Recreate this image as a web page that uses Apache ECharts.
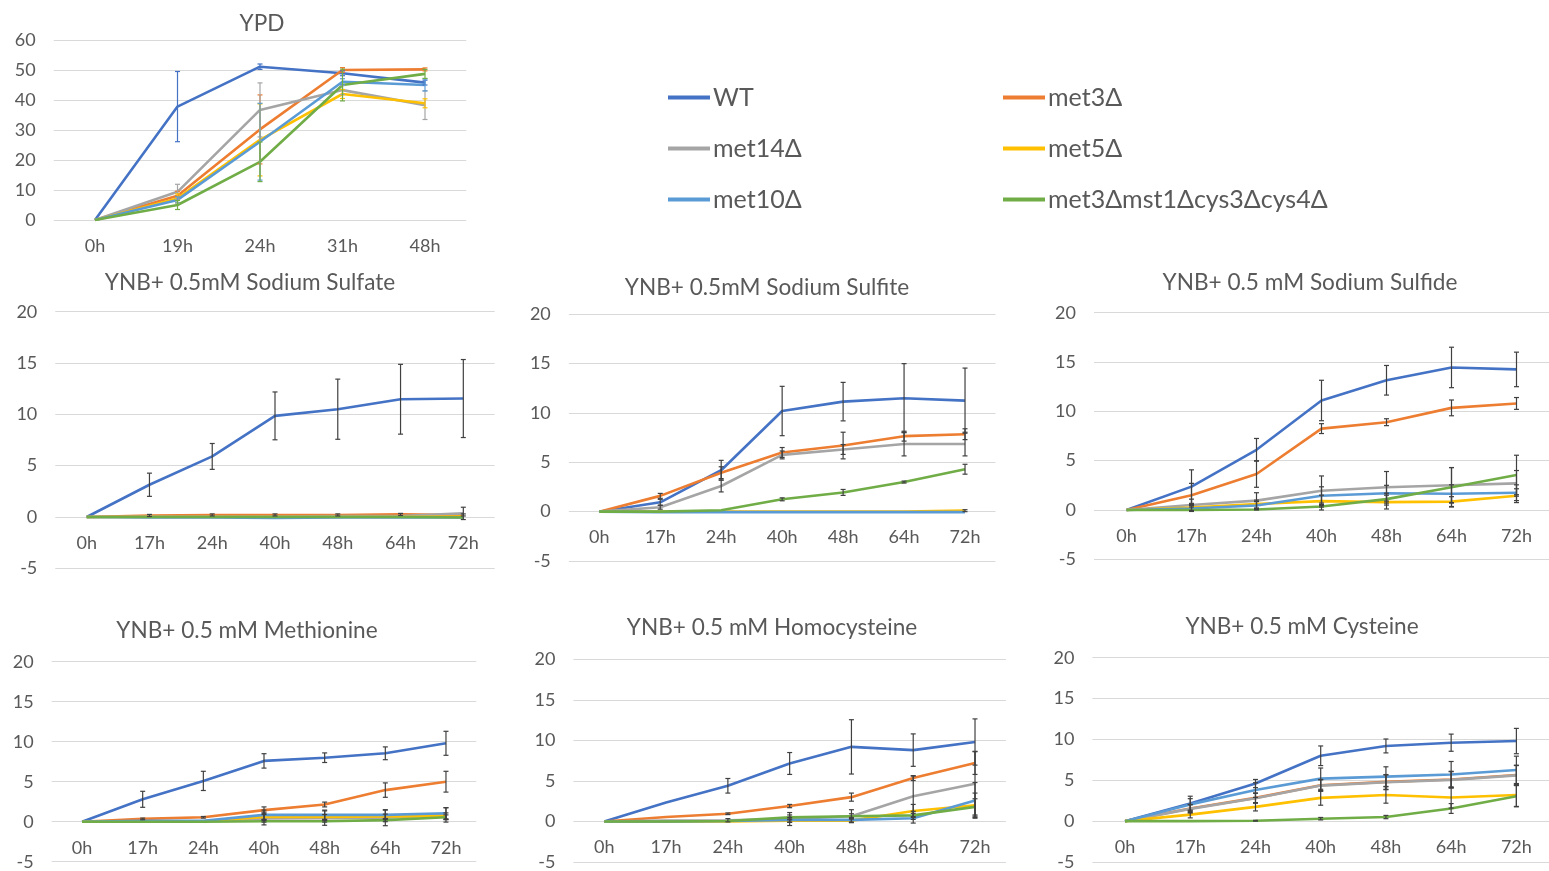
<!DOCTYPE html>
<html><head><meta charset="utf-8">
<script src="https://cdn.jsdelivr.net/npm/echarts@6/dist/echarts.min.js"></script>
<style>html,body{margin:0;padding:0;background:#fff}#c{width:1549px;height:871px}</style>
</head><body><div id="c"></div>
<script>
const strains = ['WT','met3Δ','met14Δ','met5Δ','met10Δ','met3Δmst1Δcys3Δcys4Δ'];
const colors = ['#4472C4','#ED7D31','#A5A5A5','#FFC000','#5B9BD5','#70AD47'];
const ypdTimes = ['0h','19h','24h','31h','48h'];
const ynbTimes = ['0h','17h','24h','40h','48h','64h','72h'];

// rows follow strain order
const ypdMean = [
  [0, 37.8, 51.1, 48.9, 45.8],
  [0, 8.1, 30.2, 50.0, 50.2],
  [0, 9.4, 36.7, 43.3, 38.3],
  [0, 7.2, 26.7, 42.0, 38.9],
  [0, 6.7, 26.1, 46.1, 45.0],
  [0, 5.0, 19.4, 45.0, 48.7]
];
const ypdErr = [
  [0, 11.7, 0.9, 0.8, 0.8],
  [0, 1.5, 11.5, 0.8, 0.5],
  [0, 2.5, 9.0, 1.5, 4.8],
  [0, 1.5, 12.0, 1.5, 1.5],
  [0, 1.0, 12.8, 1.0, 2.0],
  [0, 1.5, 6.6, 5.3, 1.5]
];
const sulfateMean = [
  [0, 3.14, 5.9, 9.85, 10.5, 11.47, 11.54],
  [0, 0.15, 0.2, 0.2, 0.2, 0.25, 0.2],
  [0, 0.05, 0.05, 0.05, 0.1, 0.1, 0.35],
  [0, 0, 0, 0, 0, 0, 0.05],
  [0, -0.05, -0.05, -0.1, -0.05, -0.05, -0.05],
  [0, 0, 0, 0, 0, 0, -0.05]
];
const sulfateErr = [
  [0, 1.13, 1.26, 2.33, 2.93, 3.4, 3.8],
  [0, 0.1, 0.1, 0.1, 0.1, 0.1, 0.1],
  [0, 0, 0, 0, 0, 0, 0.6],
  [0, 0, 0, 0, 0, 0, 0],
  [0, 0, 0, 0, 0, 0, 0],
  [0, 0, 0, 0, 0, 0, 0]
];
const sulfiteMean = [
  [0, 0.95, 4.2, 10.2, 11.15, 11.5, 11.25],
  [0, 1.6, 3.95, 6.0, 6.7, 7.65, 7.85],
  [0, 0.45, 2.6, 5.75, 6.3, 6.85, 6.85],
  [0, 0, 0, 0, 0, 0, 0.1],
  [0, -0.05, -0.05, -0.05, -0.05, -0.05, -0.05],
  [0, 0, 0.15, 1.25, 1.95, 3.0, 4.3]
];
const sulfiteErr = [
  [0, 0.3, 1.0, 2.5, 1.95, 3.5, 3.3],
  [0, 0.25, 0.6, 0.5, 1.35, 0.5, 0.55],
  [0, 0.2, 0.6, 0.4, 0.5, 1.2, 1.2],
  [0, 0, 0, 0, 0, 0, 0.1],
  [0, 0, 0, 0, 0, 0, 0],
  [0, 0, 0, 0.15, 0.3, 0.1, 0.5]
];
const sulfideMean = [
  [0, 2.37, 6.1, 11.1, 13.15, 14.45, 14.25],
  [0, 1.5, 3.65, 8.25, 8.9, 10.35, 10.8],
  [0, 0.5, 0.95, 1.95, 2.3, 2.5, 2.7],
  [0, 0.25, 0.6, 0.9, 0.8, 0.85, 1.45],
  [0, 0.15, 0.45, 1.45, 1.7, 1.65, 1.75],
  [0, 0, 0.05, 0.35, 1.1, 2.3, 3.55]
];
const sulfideErr = [
  [0, 1.7, 1.15, 2.05, 1.5, 2.05, 1.75],
  [0, 1.2, 1.35, 0.5, 0.35, 0.8, 0.6],
  [0, 0.6, 0.8, 1.5, 1.6, 1.8, 1.3],
  [0, 0.3, 0.4, 0.6, 0.7, 0.5, 0.7],
  [0, 0.3, 0.4, 0.9, 0.8, 0.9, 0.8],
  [0, 0, 0.05, 0.35, 0.6, 2.0, 2.0]
];
const methionineMean = [
  [0, 2.8, 5.1, 7.6, 8.0, 8.55, 9.8],
  [0, 0.35, 0.55, 1.45, 2.15, 3.95, 5.0],
  [0, 0.05, 0.05, 0.4, 0.45, 0.5, 0.85],
  [0, 0.05, 0.05, 0.6, 0.6, 0.65, 0.7],
  [0, 0.1, 0.1, 0.85, 0.85, 0.85, 1.05],
  [0, 0, 0, 0.05, 0.05, 0.2, 0.55]
];
const methionineErr = [
  [0, 1.0, 1.2, 0.9, 0.6, 0.8, 1.5],
  [0, 0.1, 0.1, 0.4, 0.3, 0.9, 1.3],
  [0, 0, 0, 0.8, 0.9, 1.0, 0.9],
  [0, 0, 0, 0.3, 0.3, 0.3, 0.4],
  [0, 0, 0, 0.6, 0.6, 0.6, 0.7],
  [0, 0, 0, 0.1, 0.1, 0.2, 0.3]
];
const homocysteineMean = [
  [0, 2.35, 4.4, 7.15, 9.2, 8.8, 9.8],
  [0, 0.55, 0.95, 1.9, 3.0, 5.35, 7.2],
  [0, 0.1, 0.15, 0.3, 0.65, 3.1, 4.65],
  [0, 0, 0, 0.1, 0.1, 1.3, 2.0],
  [0, 0, 0.05, 0.2, 0.2, 0.4, 2.6],
  [0, 0, 0.05, 0.5, 0.65, 0.75, 1.8]
];
const homocysteineErr = [
  [0, 0, 0.9, 1.35, 3.35, 2.0, 2.85],
  [0, 0, 0.1, 0.2, 0.5, 0.3, 1.4],
  [0, 0, 0.2, 0.8, 0.8, 2.5, 4.0],
  [0, 0, 0, 0.2, 0.2, 0.8, 1.5],
  [0, 0, 0, 0.3, 0.3, 0.6, 2.2],
  [0, 0, 0, 0.3, 0.3, 0.5, 1.0]
];
const cysteineMean = [
  [0, 2.15, 4.6, 8.0, 9.2, 9.6, 9.8],
  [0, 1.55, 2.85, 4.4, 4.8, 5.1, 5.65],
  [0, 1.5, 2.8, 4.35, 4.75, 5.05, 5.6],
  [0, 0.8, 1.75, 2.85, 3.2, 2.9, 3.2],
  [0, 2.05, 3.8, 5.2, 5.45, 5.7, 6.25],
  [0, 0, 0.05, 0.3, 0.5, 1.55, 3.05]
];
const cysteineErr = [
  [0, 0.9, 0.5, 1.2, 0.85, 1.05, 1.55],
  [0, 0.5, 0.6, 0.7, 0.9, 1.0, 1.2],
  [0, 0.5, 0.6, 0.7, 0.9, 1.0, 1.2],
  [0, 0.4, 0.5, 0.9, 1.0, 1.3, 1.4],
  [0, 0.7, 0.9, 1.3, 1.2, 1.6, 1.7],
  [0, 0, 0.05, 0.15, 0.2, 0.6, 1.3]
];

const FONT = 'Lato';
const TXT = '#595959';

const panels = [
  {title:'YPD', cats:ypdTimes, mean:ypdMean, err:ypdErr, min:0, max:60, step:10,
   box:{left:53.75, width:412.5, top:40, height:180}, tx:262, ty:24, errColor:null},
  {title:'YNB+ 0.5mM Sodium Sulfate', cats:ynbTimes, mean:sulfateMean, err:sulfateErr, min:-5, max:20, step:5,
   box:{left:55.3, width:439.4, top:311.7, height:256.6}, tx:250, ty:283, errColor:'#404040'},
  {title:'YNB+ 0.5mM Sodium Sulfite', cats:ynbTimes, mean:sulfiteMean, err:sulfiteErr, min:-5, max:20, step:5,
   box:{left:568.8, width:426.7, top:314.3, height:246.7}, tx:767, ty:288, errColor:'#404040'},
  {title:'YNB+ 0.5 mM Sodium Sulfide', cats:ynbTimes, mean:sulfideMean, err:sulfideErr, min:-5, max:20, step:5,
   box:{left:1094, width:467.7, top:312.7, height:246.6}, tx:1310, ty:283, errColor:'#404040'},
  {title:'YNB+ 0.5 mM Methionine', cats:ynbTimes, mean:methionineMean, err:methionineErr, min:-5, max:20, step:5,
   box:{left:51.7, width:424.6, top:661.7, height:200}, tx:247, ty:631, errColor:'#404040'},
  {title:'YNB+ 0.5 mM Homocysteine', cats:ynbTimes, mean:homocysteineMean, err:homocysteineErr, min:-5, max:20, step:5,
   box:{left:573.4, width:432.5, top:659.3, height:205.7}, tx:772, ty:628, errColor:'#404040'},
  {title:'YNB+ 0.5 mM Cysteine', cats:ynbTimes, mean:cysteineMean, err:cysteineErr, min:-5, max:20, step:5,
   box:{left:1092.4, width:457, top:657.7, height:205}, tx:1302, ty:627, errColor:'#404040'}
];

const grid = [], xAxis = [], yAxis = [], title = [], series = [];
panels.forEach((p, gi) => {
  grid.push(Object.assign({containLabel:false}, p.box));
  title.push({text:p.title, left:p.tx, top:p.ty, textAlign:'center', textVerticalAlign:'middle', padding:0,
    textStyle:{fontFamily:FONT, fontSize:22.6, fontWeight:'normal', color:TXT}});
  // category labels sit next to the zero line, as in the source
  const zeroOffset = -p.box.height * (0 - p.min) / (p.max - p.min);
  xAxis.push({type:'category', gridIndex:gi, data:p.cats, boundaryGap:true, position:'bottom', offset:zeroOffset,
    axisLine:{show:false, onZero:false}, axisTick:{show:false}, splitLine:{show:false},
    axisLabel:{color:TXT, fontSize:18, fontFamily:FONT, margin:17}});
  yAxis.push({type:'value', gridIndex:gi, min:p.min, max:p.max, interval:p.step,
    axisLine:{show:false}, axisTick:{show:false},
    splitLine:{lineStyle:{color:'#D9D9D9', width:1}},
    axisLabel:{color:TXT, fontSize:18, fontFamily:FONT, margin:18}});
  strains.forEach((s, si) => {
    series.push({type:'line', name:s, xAxisIndex:gi, yAxisIndex:gi, data:p.mean[si],
      symbol:'none', color:colors[si], lineStyle:{width:2.6, color:colors[si]}, z:2});
  });
  strains.forEach((s, si) => {
    const ec = p.errColor || colors[si];
    const d = [];
    p.mean[si].forEach((v, i) => {
      const e = p.err[si][i];
      if (e > 0) d.push([i, v - e, v + e]);
    });
    series.push({type:'custom', name:s + ' err', xAxisIndex:gi, yAxisIndex:gi, data:d, z:3,
      encode:{x:0, y:[1,2]}, silent:true,
      renderItem:(params, api) => {
        const x = api.value(0);
        const a = api.coord([x, api.value(1)]);
        const b = api.coord([x, api.value(2)]);
        const w = 2.5;
        const st = {stroke:ec, lineWidth:1.2, fill:null};
        return {type:'group', children:[
          {type:'line', shape:{x1:a[0], y1:a[1], x2:b[0], y2:b[1]}, style:st},
          {type:'line', shape:{x1:a[0]-w, y1:a[1], x2:a[0]+w, y2:a[1]}, style:st},
          {type:'line', shape:{x1:b[0]-w, y1:b[1], x2:b[0]+w, y2:b[1]}, style:st}
        ]};
      }});
  });
});

const legendBase = {orient:'vertical', icon:'rect', itemWidth:42, itemHeight:4, itemGap:26, top:85, padding:0,
  textStyle:{fontFamily:FONT, fontSize:25, color:TXT, lineHeight:24, padding:[0,0,0,-2]}};
const legend = [
  Object.assign({}, legendBase, {left:668, data:[strains[0], strains[2], strains[4]]}),
  Object.assign({}, legendBase, {left:1003, data:[strains[1], strains[3], strains[5]]})
];

const chart = echarts.init(document.getElementById('c'), null, {renderer:'canvas'});
chart.setOption({backgroundColor:'#fff', animation:false, title, legend, grid, xAxis, yAxis, series});
</script></body></html>
